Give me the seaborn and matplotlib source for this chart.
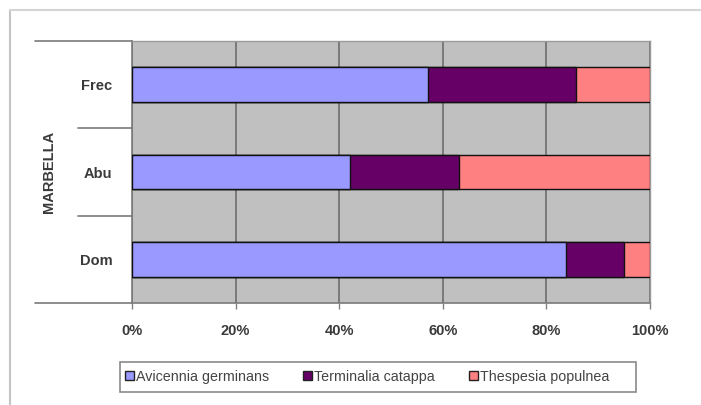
import matplotlib
matplotlib.use("Agg")
import matplotlib.pyplot as plt
import seaborn as sns
import numpy as np
from matplotlib.lines import Line2D
from matplotlib.patches import Patch, Rectangle

# ---- data ----
sites = ["Frec", "Abu", "Dom"]
species = ["Avicennia germinans", "Terminalia catappa", "Thespesia populnea"]
avicennia = [57.1, 42.1, 83.7]
terminalia = [28.6, 21.1, 11.3]
thespesia = [14.3, 36.8, 5.0]
group_label = "MARBELLA"
xtick_values = [0, 20, 40, 60, 80, 100]
xtick_labels = ["0%", "20%", "40%", "60%", "80%", "100%"]
colors = ["#9999FF", "#660066", "#FF8080"]

sns.set_theme(style="white")
plt.rcParams['font.family'] = ['Liberation Sans', 'DejaVu Sans']

W, H = 701, 405
fig = plt.figure(figsize=(W / 100, H / 100), dpi=100)
x0, x1, y0, y1 = 132, 650, 41, 303
ax = fig.add_axes([x0 / W, 1 - y1 / H, (x1 - x0) / W, (y1 - y0) / H])
ax.set_facecolor("#C0C0C0")

series = [avicennia, terminalia, thespesia]
cum = np.cumsum(np.array(series), axis=0)
for i in reversed(range(len(series))):
    sns.barplot(x=cum[i], y=sites, orient="h", color=colors[i], saturation=1,
                width=0.4, edgecolor="#111111", linewidth=1.0, ax=ax, zorder=3)

ax.set_xlim(0, 100)
ax.set_ylim(2.5, -0.5)
ax.set_xticks(xtick_values)
ax.set_xticklabels(xtick_labels, fontsize=10.5, color="#3a3a3a", fontweight="bold")
ax.xaxis.grid(True, color="#6e6e6e", linewidth=1.2)
ax.yaxis.grid(False)
ax.set_axisbelow(True)
ax.tick_params(axis="x", length=4, width=1, color="#808080", pad=11, direction="out", bottom=True)
ax.tick_params(axis="y", length=0, pad=14)
for lbl in ax.get_yticklabels():
    lbl.set_fontsize(10.5)
    lbl.set_fontweight("bold")
    lbl.set_color("#3a3a3a")
ax.set_xlabel("")
ax.set_ylabel("")

for s in ["top", "right"]:
    ax.spines[s].set_color("#9a9a9a")
    ax.spines[s].set_linewidth(1.0)
for s in ["left", "bottom"]:
    ax.spines[s].set_color("#7a7a7a")
    ax.spines[s].set_linewidth(1.2)

# category separator lines extending left of the axis
tr = ax.get_yaxis_transform()
for yv, xl in [(-0.5, -0.188), (0.5, -0.105), (1.5, -0.105), (2.5, -0.188)]:
    ax.plot([xl, 0], [yv, yv], transform=tr, color="#7a7a7a", linewidth=1.2, clip_on=False)

fig.text(49 / W, 1 - 172 / H, group_label, rotation=90, ha="center", va="center",
         fontsize=10.5, color="#3a3a3a", fontweight="bold")

# legend (frame drawn separately to match the wide box)
handles = [Patch(facecolor=c, edgecolor="#222222", linewidth=1) for c in colors]
leg = fig.legend(handles, species, loc="center left", bbox_to_anchor=(121 / W, 1 - 377 / H),
                 ncol=3, frameon=False, fontsize=10.3, handlelength=0.6, handleheight=0.6,
                 handletextpad=0.15, columnspacing=2.4, borderpad=0.3, borderaxespad=0,
                 labelcolor="#444444")
fig.add_artist(Rectangle((120 / W, 1 - 392 / H), 516 / W, 30 / H, transform=fig.transFigure,
                         facecolor="none", edgecolor="#8a8a8a", linewidth=1.2))

# outer frame (screenshot border)
fig.add_artist(Line2D([10 / W, 10 / W], [0, 1 - 10 / H], transform=fig.transFigure,
                      color="#c4c4c4", linewidth=1.5))
fig.add_artist(Line2D([10 / W, 1], [1 - 10 / H, 1 - 10 / H], transform=fig.transFigure,
                      color="#d4d4d4", linewidth=1.5))

fig.savefig("out.png", dpi=100)
